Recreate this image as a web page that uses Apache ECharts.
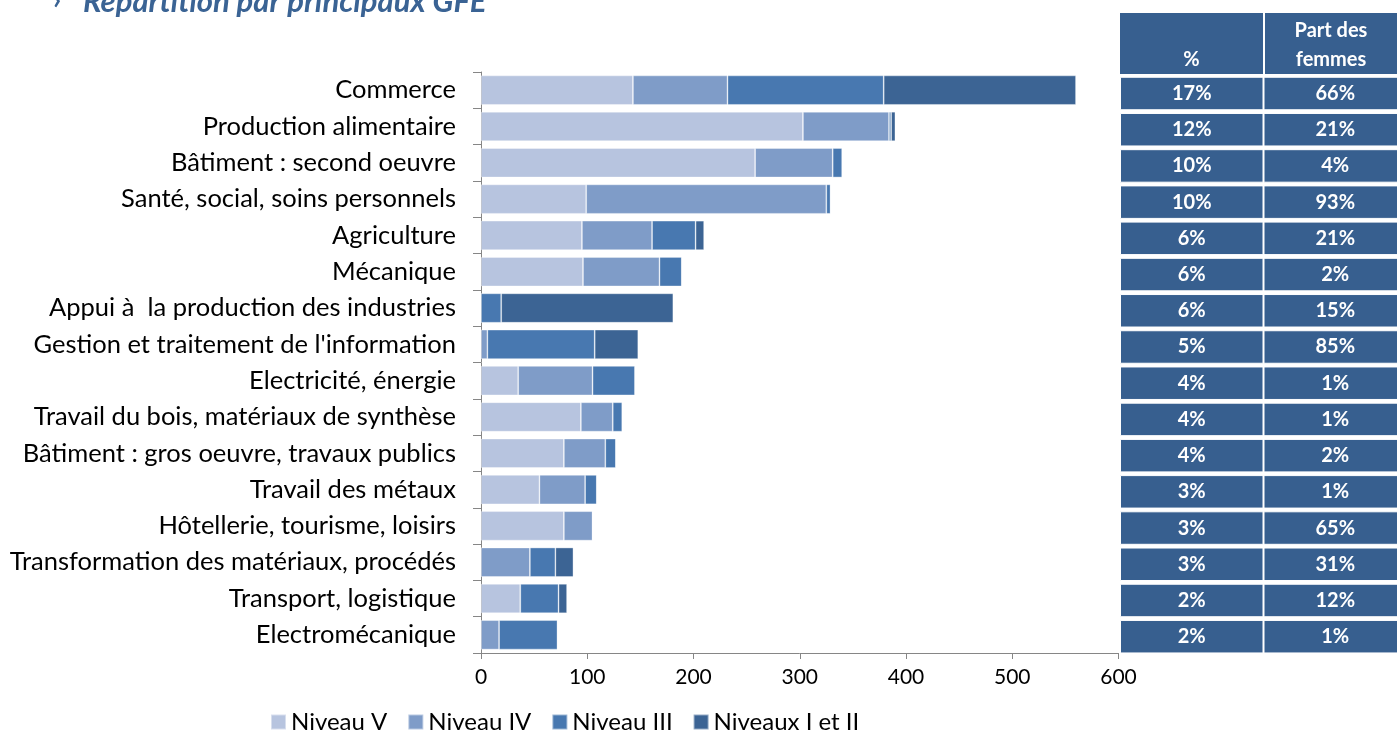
<!DOCTYPE html>
<html>
<head>
<meta charset="utf-8">
<script src="https://cdn.jsdelivr.net/npm/echarts@6/dist/echarts.min.js"></script>
<style>
html,body{margin:0;padding:0;background:#fff;}
#c{width:1397px;height:733px;}
</style>
</head>
<body>
<div id="c"></div>
<script>
const categories = [
  "Commerce",
  "Production alimentaire",
  "Bâtiment : second oeuvre",
  "Santé, social, soins personnels",
  "Agriculture",
  "Mécanique",
  "Appui à  la production des industries",
  "Gestion et traitement de l'information",
  "Electricité, énergie",
  "Travail du bois, matériaux de synthèse",
  "Bâtiment : gros oeuvre, travaux publics",
  "Travail des métaux",
  "Hôtellerie, tourisme, loisirs",
  "Transformation des matériaux, procédés",
  "Transport, logistique",
  "Electromécanique"
];
const niveauV   = [143, 303, 258,  99, 95, 96,   0,   0, 35, 94, 78, 55, 78,  0, 37,  0];
const niveauIV  = [ 89,  81,  73, 226, 66, 72,   0,   6, 70, 30, 39, 43, 27, 46,  0, 17];
const niveauIII = [147,   2,   9,   4, 41, 21,  19, 101, 40,  9, 10, 11,  0, 24, 36, 55];
const niveauxI  = [181,   4,   0,   0,  8,  0, 162,  41,  0,  0,  0,  0,  0, 17,  8,  0];
const partPct    = ["17%","12%","10%","10%","6%","6%","6%","5%","4%","4%","4%","3%","3%","3%","2%","2%"];
const partFemmes = ["66%","21%","4%","93%","21%","2%","15%","85%","1%","1%","2%","1%","65%","31%","12%","1%"];
const seriesNames = ["Niveau V", "Niveau IV", "Niveau III", "Niveaux I et II"];
const xTicks = { min: 0, max: 600, interval: 100 };
const headers = ["%", "Part des\nfemmes"];
const titleText = "Répartition par principaux GFE";

const FONT = "Lato";
const colors = ["#B7C4DF", "#7F9CC8", "#4878B0", "#3C6494"];
const tableColor = "#375F8F";

const chart = echarts.init(document.getElementById('c'), null, {renderer: 'canvas'});

const mkBar = (name, data, i) => ({
  name: name, type: 'bar', stack: 'total', xAxisIndex: 0, yAxisIndex: 0,
  data: data, barCategoryGap: '19%',
  itemStyle: { color: colors[i], borderColor: 'rgba(255,255,255,0.45)', borderWidth: 0.8 },
  emphasis: { disabled: true }
});

const ones = categories.map(() => 1);
const mkCell = (labels) => ({
  type: 'bar', stack: 'table', xAxisIndex: 1, yAxisIndex: 1,
  data: ones, barCategoryGap: '7.5%', clip: false,
  itemStyle: { color: tableColor, borderColor: '#fff', borderWidth: 1 },
  label: {
    show: true, position: 'inside', color: '#fff', fontFamily: FONT,
    fontWeight: 'bold', fontSize: 20,
    formatter: p => labels[p.dataIndex]
  },
  emphasis: { disabled: true }, silent: true
});

chart.setOption({
  animation: false,
  textStyle: { fontFamily: FONT },
  legend: {
    data: seriesNames, left: 265, bottom: -6, itemWidth: 15, itemHeight: 15, itemGap: 20,
    icon: 'rect',
    textStyle: { fontFamily: FONT, fontSize: 24, color: '#000', padding: [0, 0, 0, 0] }
  },
  grid: [
    { left: 481, top: 72, right: 278.5, bottom: 80, containLabel: false },
    { left: 1120, top: 75.4, width: 277, bottom: 78.2, containLabel: false }
  ],
  xAxis: [
    {
      gridIndex: 0, type: 'value', min: xTicks.min, max: xTicks.max, interval: xTicks.interval,
      axisLine: { show: true, lineStyle: { color: '#868686' } },
      axisTick: { show: true, length: 6, lineStyle: { color: '#868686' } },
      splitLine: { show: false },
      axisLabel: { color: '#000', fontFamily: FONT, fontSize: 21, margin: 14 }
    },
    { gridIndex: 1, type: 'value', min: 0, max: 277 / 143.5, show: false }
  ],
  yAxis: [
    {
      gridIndex: 0, type: 'category', data: categories, inverse: true,
      axisLine: { show: true, lineStyle: { color: '#868686' } },
      axisTick: { show: true, length: 8, lineStyle: { color: '#868686' } },
      axisLabel: { color: '#000', fontFamily: FONT, fontSize: 25.5, margin: 25 }
    },
    { gridIndex: 1, type: 'category', data: categories, inverse: true, show: false }
  ],
  series: [
    mkBar(seriesNames[0], niveauV, 0),
    mkBar(seriesNames[1], niveauIV, 1),
    mkBar(seriesNames[2], niveauIII, 2),
    mkBar(seriesNames[3], niveauxI, 3),
    mkCell(partPct),
    mkCell(partFemmes)
  ],
  graphic: [
    { type: 'rect', shape: { x: 1120, y: 13, width: 143, height: 61 }, style: { fill: tableColor } },
    { type: 'rect', shape: { x: 1265, y: 13, width: 140, height: 61 }, style: { fill: tableColor } },
    { type: 'text', x: 1191.5, y: 60, style: { text: headers[0], fill: '#fff', font: 'bold 20px "Lato"', textAlign: 'center', textVerticalAlign: 'middle' } },
    { type: 'text', x: 1331, y: 45, style: { text: headers[1], fill: '#fff', font: 'bold 20px "Lato"', textAlign: 'center', textVerticalAlign: 'middle', lineHeight: 29 } },
    { type: 'text', x: 53, y: 0, style: { text: '›', fill: '#3A6394', font: 'bold 28px "Lato"', textVerticalAlign: 'middle' } },
    { type: 'text', x: 83, y: 2, style: { text: titleText, fill: '#3A6394', font: 'italic bold 31px "Lato"', textVerticalAlign: 'middle' } }
  ]
});
</script>
</body>
</html>
